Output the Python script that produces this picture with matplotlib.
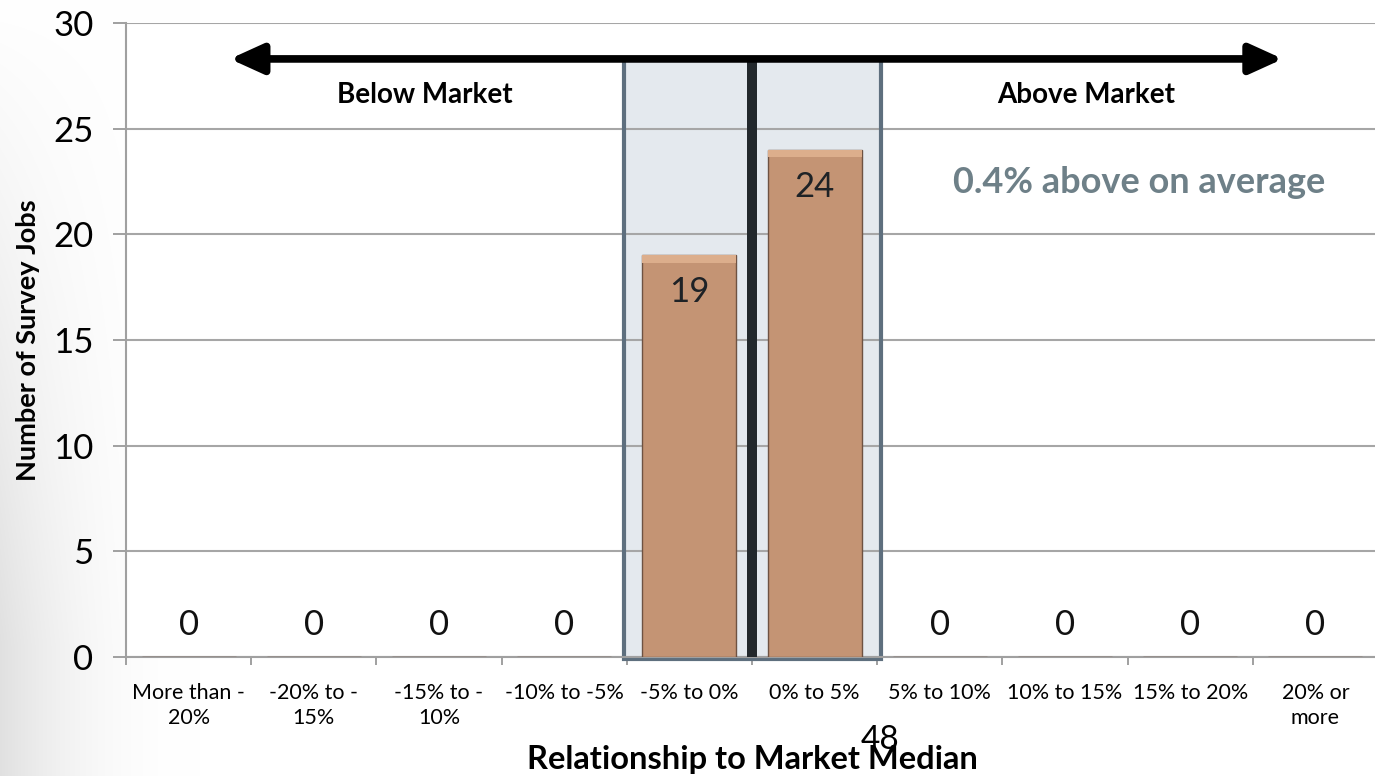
import matplotlib
matplotlib.use('Agg')
import matplotlib.pyplot as plt
import numpy as np
from matplotlib.patches import Rectangle

categories = ["More than -\n20%", "-20% to -\n15%", "-15% to -\n10%", "-10% to -5%",
              "-5% to 0%", "0% to 5%", "5% to 10%", "10% to 15%", "15% to 20%", "20% or\nmore"]
counts = [0, 0, 0, 0, 19, 24, 0, 0, 0, 0]
yticks = [0, 5, 10, 15, 20, 25, 30]

plt.rcParams['font.family'] = ['Lato', 'DejaVu Sans']

W, H = 1375, 776
fig = plt.figure(figsize=(W / 100, H / 100), dpi=100)

# slide background shading at the left edge
bg = fig.add_axes([0, 0, 1, 1], zorder=-10)
xx = np.linspace(0, 1, W)[None, :]
yy = np.linspace(0, 1, H)[:, None]
shade = np.clip(1 - xx * W / 200, 0, 1) ** 2.2 * np.clip(yy * 1.2, 0, 1)
img = np.ones((H, W, 3)) - shade[..., None] * 0.12
bg.imshow(img, aspect='auto', extent=[0, 1, 0, 1], origin='upper')
bg.axis('off')

ax = fig.add_axes([126 / W, 1 - 657 / H, (1378 - 126) / W, (657 - 23) / H])
x = np.arange(len(categories))
ax.set_xlim(-0.5, len(categories) - 0.5)
ax.set_ylim(0, 30)

# highlighted region around the central bins
ax.add_patch(Rectangle((3.48, -0.1), 2.05, 28.4, facecolor='#e4e9ee', edgecolor='none',
                       zorder=0.2, clip_on=False))
ax.add_patch(Rectangle((3.48, -0.1), 2.05, 28.4, facecolor='none', edgecolor='#5e6f7e',
                       linewidth=3.0, zorder=2.5, clip_on=False, joinstyle='miter'))
ax.plot([4.5, 4.5], [0, 28.2], color='#22282c', linewidth=7.2, zorder=2.6, solid_capstyle='butt')

# bars
cnt = np.array(counts, dtype=float)
ax.bar(x, cnt, width=0.75, color='#c49474', edgecolor='#6e5242', linewidth=1.0, zorder=3)
mask = cnt > 0
ax.bar(x[mask], np.full(mask.sum(), 0.35), bottom=cnt[mask] - 0.35, width=0.75,
       color='#dcae8c', edgecolor='none', zorder=3.1)

for xi, v in zip(x, counts):
    if v > 0:
        ax.text(xi, v - 1.75, str(v), ha='center', va='center', fontsize=25, color='#1e2226', zorder=4)
    else:
        ax.text(xi, v + 1.5, str(v), ha='center', va='center', fontsize=25, color='#111111', zorder=4)

# grid and axes styling
ax.set_axisbelow(True)
ax.set_yticks(yticks)
ax.yaxis.grid(True, color='#a6a6a6', linewidth=1.5)
ax.tick_params(axis='y', length=9.4, width=1.4, color='#a0a0a0', labelsize=25, pad=14)
ax.set_xticks(x)
ax.set_xticklabels(categories, fontsize=15.5, linespacing=1.3)
ax.set_xticks(np.arange(len(categories) + 1) - 0.5, minor=True)
ax.tick_params(axis='x', which='major', length=0, pad=19)
ax.tick_params(axis='x', which='minor', length=6, width=1.4, color='#a0a0a0')
for s in ['top', 'right']:
    ax.spines[s].set_visible(False)
for s in ['left', 'bottom']:
    ax.spines[s].set_color('#a0a0a0')
    ax.spines[s].set_linewidth(1.5)

# arrow across top
ax.annotate('', xy=(8.74, 28.3), xytext=(0.33, 28.3),
            arrowprops=dict(arrowstyle='<|-|>,head_length=1.1,head_width=0.5',
                            mutation_scale=18, color='black', linewidth=5.5,
                            shrinkA=0, shrinkB=0), zorder=5)
ax.text(1.89, 26.6, 'Below Market', ha='center', va='center', fontsize=20, fontweight='bold', color='black')
ax.text(7.17, 26.6, 'Above Market', ha='center', va='center', fontsize=20, fontweight='bold', color='black')
ax.text(7.59, 22.43, '0.4% above on average', ha='center', va='center', fontsize=26,
        fontweight='bold', color='#6e8088')

ax.set_ylabel('Number of Survey Jobs', fontsize=19.5, fontweight='bold', va='center')
ax.yaxis.set_label_coords((28 - 126) / 1252, 0.5)
ax.set_xlabel('Relationship to Market Median', fontsize=23.5, fontweight='bold', va='center')
ax.xaxis.set_label_coords((752 - 126) / 1252, (657 - 760) / 634)

fig.text(880 / W, 1 - 740 / H, '48', ha='center', va='center', fontsize=24, color='black')

fig.savefig('out.png', dpi=100)
